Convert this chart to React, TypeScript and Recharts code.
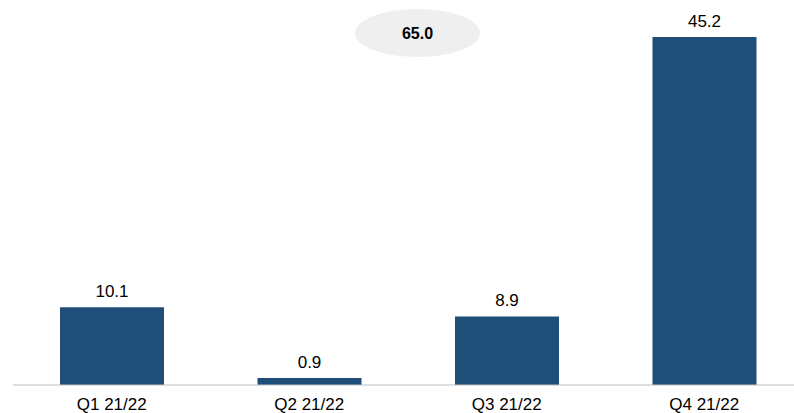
import React from "react";
import { BarChart, Bar, XAxis, YAxis, LabelList } from "recharts";

const categories = ["Q1 21/22", "Q2 21/22", "Q3 21/22", "Q4 21/22"];
const values = [10.1, 0.9, 8.9, 45.2];
const totalLabel = "65.0";

const data = categories.map((name, i) => ({ name, value: values[i] }));

const FONT = "Arial, 'Liberation Sans', sans-serif";

export default function App() {
  return (
    <div
      style={{
        position: "absolute",
        left: 0,
        top: 0,
        width: 794,
        height: 413,
        overflow: "hidden",
        background: "#ffffff",
        fontFamily: FONT,
      }}
    >
      <BarChart
        width={803}
        height={413}
        data={data}
        margin={{ top: 0, right: 0, bottom: 0, left: 13 }}
        barCategoryGap="0%"
      >
        <XAxis
          dataKey="name"
          axisLine={{ stroke: "#bfbfbf", strokeWidth: 1 }}
          tickLine={false}
          tickSize={6}
          tickMargin={7}
          height={28}
          interval={0}
          tick={{ fill: "#000000", fontSize: 17, fontFamily: FONT }}
        />
        <YAxis hide domain={[0, 50]} />
        <Bar
          dataKey="value"
          fill="#1F4E79"
          barSize={104}
          isAnimationActive={false}
        >
          <LabelList
            dataKey="value"
            position="top"
            offset={10}
            formatter={(v: number) => v.toFixed(1)}
            style={{ fill: "#000000", fontSize: 17, fontFamily: FONT }}
          />
        </Bar>
      </BarChart>
      <svg
        width={794}
        height={413}
        style={{ position: "absolute", left: 0, top: 0, pointerEvents: "none" }}
      >
        <ellipse cx={417.5} cy={33} rx={62.5} ry={24} fill="#efefef" />
        <text
          x={417.5}
          y={33}
          textAnchor="middle"
          dominantBaseline="central"
          fontFamily={FONT}
          fontWeight="bold"
          fontSize={16}
          fill="#000000"
        >
          {totalLabel}
        </text>
      </svg>
    </div>
  );
}
